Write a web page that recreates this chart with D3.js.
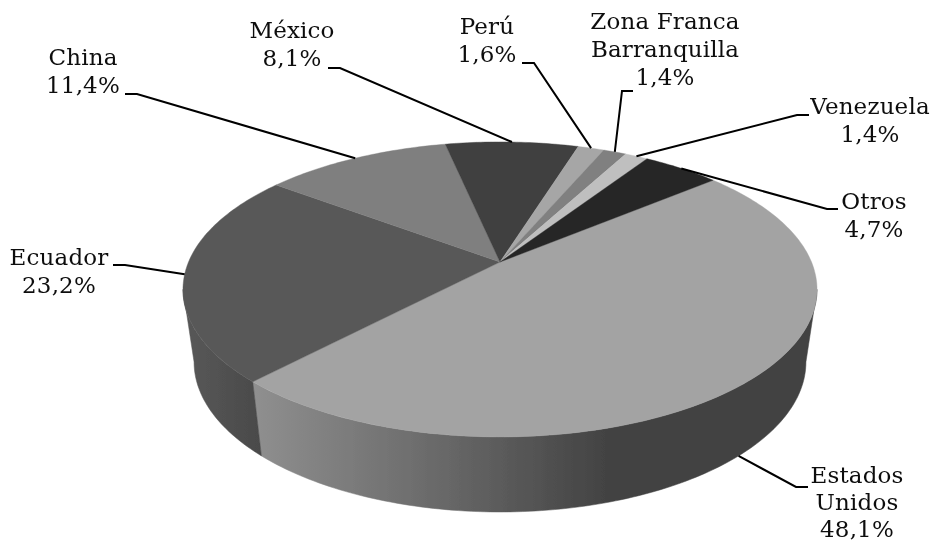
<!DOCTYPE html>
<html><head><meta charset="utf-8">
<script src="https://cdn.jsdelivr.net/npm/d3@7/dist/d3.min.js"></script>
<style>html,body{margin:0;background:#fff}svg{display:block}
text{font-family:"DejaVu Serif",serif;font-size:23px;letter-spacing:0.15px;fill:#111;text-anchor:middle}</style>
</head><body><svg id="c" width="930" height="543"></svg>
<script>
const categories=["Estados Unidos","Ecuador","China","México","Perú","Zona Franca Barranquilla","Venezuela","Otros"];
const shares=[48.1,23.2,11.4,8.1,1.6,1.4,1.4,4.7];
const topColors=["#a3a3a3","#595959","#7f7f7f","#404040","#a6a6a6","#808080","#bfbfbf","#262626"];

// label layout: text lines, line centre x, first baseline, leader elbow and leader start
const labelLayout=[
 {lines:["Estados","Unidos"],x:857,y:483,gap:27.2,start:[808,487],elbow:[796,487],rim:"low"},
 {lines:["Ecuador"],x:59,y:265,start:[113,265],elbow:[125,265]},
 {lines:["China"],x:83,y:65,start:[125,94],elbow:[137,94]},
 {lines:["México"],x:292,y:38,start:[328,68],elbow:[340,68]},
 {lines:["Perú"],x:487,y:34,start:[522,63],elbow:[534,63]},
 {lines:["Zona Franca","Barranquilla"],x:665,y:29,start:[633,91],elbow:[622,91]},
 {lines:["Venezuela"],x:870,y:114,start:[809,115],elbow:[797,115]},
 {lines:["Otros"],x:874,y:209,start:[838,209],elbow:[827,209]}
];

const svg=d3.select("#c");
const defs=svg.append("defs");
const blur=defs.append("filter").attr("id","soft").attr("x","-5%").attr("y","-5%").attr("width","110%").attr("height","110%");
blur.append("feGaussianBlur").attr("stdDeviation",0.45);

// perspective disc projection
const P=0.186;
const topRim={cx:500,cy:262,a:311.5,b:142.4};
const lowRim={cx:500,cy:334.1,a:300.6,b:144.8};
function project(rim,ang){const u=Math.sin(ang),v=Math.cos(ang),w=1+P*v;return [rim.cx+rim.a*u/w,rim.cy-rim.b*v/w];}
const deg=d=>d*Math.PI/180;
const line=d3.line();
const arcPts=(rim,a0,a1)=>{const n=Math.max(4,Math.ceil(Math.abs(a1-a0)/deg(1)));return d3.range(n+1).map(i=>project(rim,a0+(a1-a0)*i/n));};

const pie=d3.pie().sort(null).startAngle(deg(50)).endAngle(deg(410));
const arcs=pie(shares);

// side gradients
function grad(id,x1,x2,stops){const g=defs.append("linearGradient").attr("id",id).attr("gradientUnits","userSpaceOnUse").attr("x1",x1).attr("x2",x2).attr("y1",0).attr("y2",0);
 stops.forEach(s=>g.append("stop").attr("offset",s[0]).attr("stop-color",s[1]));}
grad("sideUS",255,820,[[0,"#8f8f8f"],[0.35,"#666666"],[0.62,"#434343"],[1,"#434343"]]);
grad("sideEC",183,260,[[0,"#585858"],[1,"#4a4a4a"]]);

const g=svg.append("g").attr("filter","url(#soft)");
const side=(a0,a1,fill)=>g.append("path")
 .attr("d",line(arcPts(topRim,a0,a1).concat(arcPts(lowRim,a1,a0)))+"Z").attr("fill",fill).attr("stroke",fill).attr("stroke-width",0.5);
const us=arcs[0];
side(deg(100.7),us.endAngle,"url(#sideUS)");
side(us.endAngle,deg(259.3),"url(#sideEC)");

g.selectAll("path.top").data(arcs).join("path").attr("class","top")
 .attr("d",d=>line([[topRim.cx,topRim.cy]].concat(arcPts(topRim,d.startAngle,d.endAngle)))+"Z")
 .attr("fill",(d,i)=>topColors[i]).attr("stroke",(d,i)=>topColors[i]).attr("stroke-width",0.4);

// leaders + labels
const fmt=v=>d3.format(".1f")(v).replace(".",",")+"%";
const t=svg.append("g").attr("filter","url(#soft)");
labelLayout.forEach((l,i)=>{
 const mid=(arcs[i].startAngle+arcs[i].endAngle)/2;
 const end=project(l.rim==="low"?lowRim:topRim,mid);
 t.append("path").attr("d",line([l.start,l.elbow,end])).attr("fill","none").attr("stroke","#000").attr("stroke-width",2);
 l.lines.concat([fmt(shares[i])]).forEach((s,k)=>{
  t.append("text").attr("x",l.x).attr("y",l.y+k*(l.gap||28)).text(s);
 });
});
</script></body></html>
